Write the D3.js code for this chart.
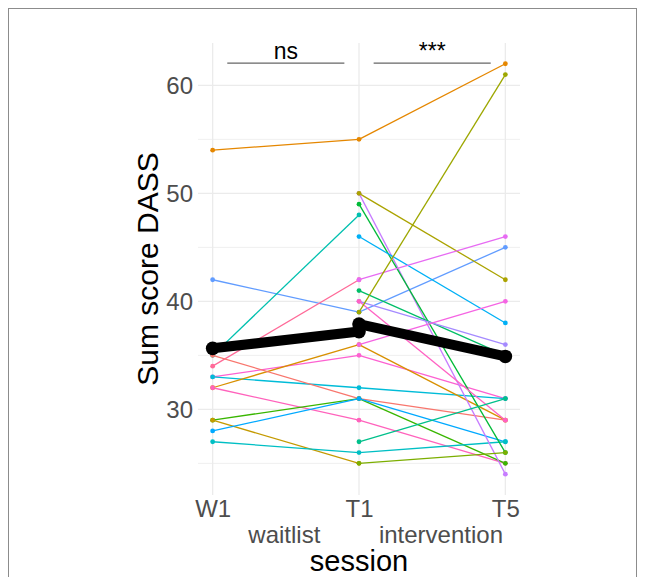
<!DOCTYPE html>
<html>
<head>
<meta charset="utf-8">
<script src="https://cdn.jsdelivr.net/npm/d3@7"></script>
<style>
  html, body { margin: 0; padding: 0; background: #ffffff; }
  svg { display: block; font-family: "Liberation Sans", Arial, sans-serif; }
</style>
</head>
<body>
<svg id="chart" width="645" height="577"></svg>
<script>
// ---------- data ----------
const sessions = ["W1", "T1", "T5"];
const phaseLabels = ["waitlist", "intervention"];
const yTicks = [30, 40, 50, 60];
const yMinorTicks = [25, 35, 45, 55];

// one entry per participant (null = not measured at that session)
const subjectColors = [
  "#E58700", "#619CFF", "#00C0AF", "#FF6A98", "#FD61D1", "#00BCD8", "#D89000",
  "#FF62BC", "#F8766D", "#39B600", "#C49A00", "#00A9FF", "#00BFC4",
  "#C77CFF", "#ABA300", "#00BA38", "#00B0F6", "#E76BF3", "#00BE67",
  "#A58AFF", "#FF61C3", "#9DA700", "#00C08B", "#F564E3", "#7CAE00"
];
const scoreW1 = [54, 42, 35, 34, 33, 33, 32, 32, 35, 29, 29, 28, 27,
  null, null, null, null, null, null, null, null, null, null, null, null];
const scoreT1 = [55, 39, 48, 42, 35, 32, 36, 29, 31, 31, 25, 31, 26,
  50, 50, 49, 46, 42, 41, 40, 40, 39, 27, 36, 25];
const scoreT5 = [62, 45, null, null, 31, 31, 29, 25, 29, 25, null, 27, 27,
  24, 42, 26, 38, 46, 35, 36, 29, 61, 31, 40, 26];

// group means
const meanWaitlist = [35.65, 37.2];      // W1, T1
const meanIntervention = [37.9, 34.9];   // T1, T5

// significance brackets
const bracketLabels = ["ns", "***"];
const bracketFrom = [0.1, 1.1];
const bracketTo = [0.9, 1.9];
const bracketY = 62.05;

// ---------- layout ----------
const panel = { left: 198, right: 520, top: 43, bottom: 495 };
const svg = d3.select("#chart");

// outer frame
svg.append("rect")
  .attr("x", 8.5).attr("y", 8.5)
  .attr("width", 628).attr("height", 620)
  .attr("fill", "none").attr("stroke", "#8c8c8c").attr("stroke-width", 1);

const x = d3.scaleLinear().domain([-0.1, 2.1]).range([panel.left, panel.right]);
const y = d3.scaleLinear().domain([22.07, 63.92]).range([panel.bottom, panel.top]);

// ---------- grid ----------
const grid = svg.append("g");
grid.selectAll("line.minor").data(yMinorTicks).join("line")
  .attr("x1", panel.left).attr("x2", panel.right)
  .attr("y1", d => y(d)).attr("y2", d => y(d))
  .attr("stroke", "#EBEBEB").attr("stroke-width", 0.8);
grid.selectAll("line.major").data(yTicks).join("line")
  .attr("x1", panel.left).attr("x2", panel.right)
  .attr("y1", d => y(d)).attr("y2", d => y(d))
  .attr("stroke", "#EBEBEB").attr("stroke-width", 1.3);
grid.selectAll("line.vx").data(sessions).join("line")
  .attr("x1", (d, i) => x(i)).attr("x2", (d, i) => x(i))
  .attr("y1", panel.top).attr("y2", panel.bottom)
  .attr("stroke", "#EBEBEB").attr("stroke-width", 1.3);

// ---------- axes ----------
const yAxis = svg.append("g")
  .attr("transform", `translate(${panel.left},0)`)
  .call(d3.axisLeft(y).tickValues(yTicks).tickSize(0).tickPadding(5).tickFormat(d3.format("d")));
yAxis.select(".domain").remove();
yAxis.selectAll("text")
  .attr("font-size", 24).attr("fill", "#4D4D4D")
  .attr("font-family", "Liberation Sans, Arial, sans-serif");

const xAxis = svg.append("g")
  .attr("transform", `translate(0,${panel.bottom})`)
  .call(d3.axisBottom(x).tickValues([0, 1, 2]).tickSize(0).tickPadding(5)
    .tickFormat(i => sessions[i]));
xAxis.select(".domain").remove();
xAxis.selectAll("text")
  .attr("font-size", 24).attr("fill", "#4D4D4D")
  .attr("font-family", "Liberation Sans, Arial, sans-serif");

// phase labels under the axis
const phaseCenters = [0.49, 1.56];
svg.selectAll("text.phase").data(phaseLabels).join("text")
  .attr("class", "phase")
  .attr("x", (d, i) => x(phaseCenters[i]))
  .attr("y", 543)
  .attr("text-anchor", "middle")
  .attr("font-size", 24).attr("fill", "#4D4D4D")
  .text(d => d);

// axis titles
svg.append("text")
  .attr("x", x(1)).attr("y", 571)
  .attr("text-anchor", "middle")
  .attr("font-size", 29).attr("fill", "#000")
  .text("session");
svg.append("text")
  .attr("transform", `translate(158,${(panel.top + panel.bottom) / 2}) rotate(-90)`)
  .attr("text-anchor", "middle")
  .attr("font-size", 30).attr("fill", "#000")
  .text("Sum score DASS");

// ---------- individual trajectories ----------
const subjects = subjectColors.map((c, i) => ({
  color: c,
  values: [scoreW1[i], scoreT1[i], scoreT5[i]]
}));

const lineGen = d3.line().x(d => x(d.s)).y(d => y(d.v));
const segs = [];
subjects.forEach(s => {
  for (let k = 0; k < 2; k++) {
    if (s.values[k] != null && s.values[k + 1] != null) {
      segs.push({ color: s.color, pts: [{ s: k, v: s.values[k] }, { s: k + 1, v: s.values[k + 1] }] });
    }
  }
});
svg.append("g").selectAll("path").data(segs).join("path")
  .attr("d", d => lineGen(d.pts))
  .attr("fill", "none").attr("stroke", d => d.color).attr("stroke-width", 1.3);

const pts = [];
subjects.forEach(s => s.values.forEach((v, k) => { if (v != null) pts.push({ color: s.color, s: k, v }); }));
svg.append("g").selectAll("circle").data(pts).join("circle")
  .attr("cx", d => x(d.s)).attr("cy", d => y(d.v)).attr("r", 2.4)
  .attr("fill", d => d.color);

// ---------- means ----------
const meanLines = [
  [{ s: 0, v: meanWaitlist[0] }, { s: 1, v: meanWaitlist[1] }],
  [{ s: 1, v: meanIntervention[0] }, { s: 2, v: meanIntervention[1] }]
];
const mg = svg.append("g");
mg.selectAll("path").data(meanLines).join("path")
  .attr("d", d => lineGen(d))
  .attr("fill", "none").attr("stroke", "#000").attr("stroke-width", 10);
mg.selectAll("circle").data(meanLines.flat()).join("circle")
  .attr("cx", d => x(d.s)).attr("cy", d => y(d.v)).attr("r", 6.8)
  .attr("fill", "#000");

// ---------- significance brackets ----------
const bg = svg.append("g");
bg.selectAll("line").data(bracketLabels).join("line")
  .attr("x1", (d, i) => x(bracketFrom[i])).attr("x2", (d, i) => x(bracketTo[i]))
  .attr("y1", y(bracketY)).attr("y2", y(bracketY))
  .attr("stroke", "#666666").attr("stroke-width", 1.3);
bg.selectAll("text").data(bracketLabels).join("text")
  .attr("x", (d, i) => x((bracketFrom[i] + bracketTo[i]) / 2))
  .attr("y", y(bracketY) - 4)
  .attr("text-anchor", "middle")
  .attr("font-size", 23).attr("fill", "#000")
  .text(d => d);
</script>
</body>
</html>
